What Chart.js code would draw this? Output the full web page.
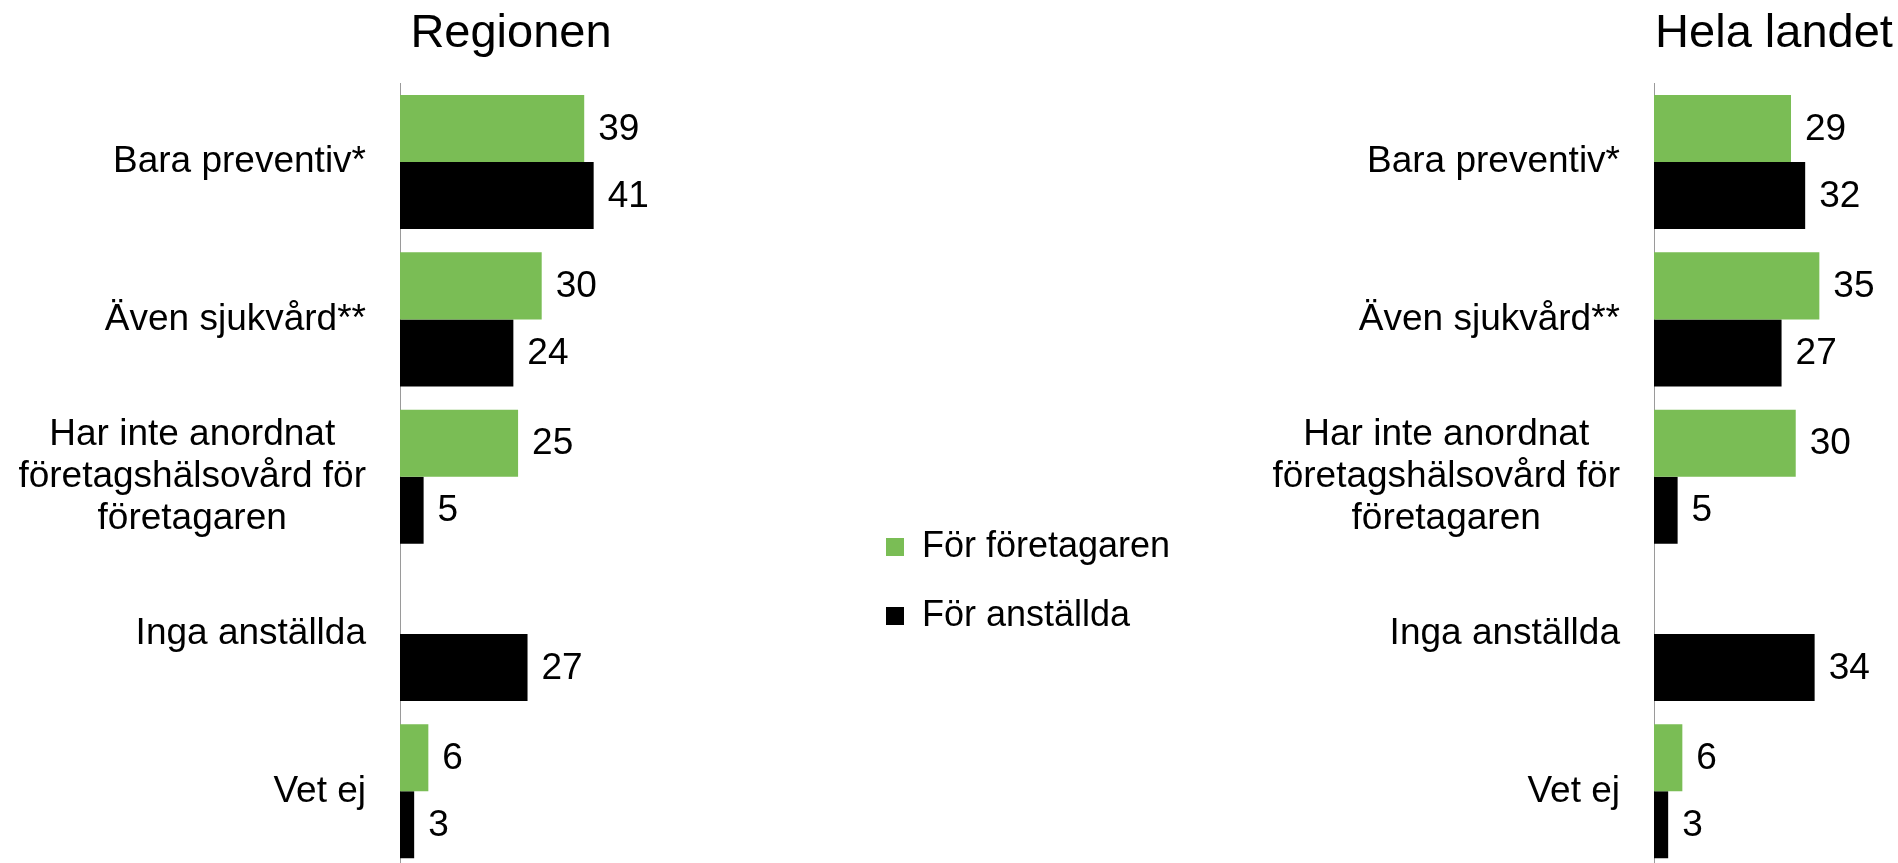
<!DOCTYPE html>
<html lang="sv">
<head>
<meta charset="utf-8">
<title>Företagshälsovård</title>
<script src="https://cdn.jsdelivr.net/npm/chart.js@4.4.1/dist/chart.umd.min.js"></script>
<style>
  html, body { margin: 0; padding: 0; background: #fff; overflow: hidden; }
  .box { position: absolute; top: 0; }
  #boxRegion { left: 0; width: 700px; height: 870px; }
  #boxLandet { left: 1100px; width: 798px; height: 870px; }
  #boxLegend { left: 853px; top: 496px; width: 330px; height: 200px; }
</style>
</head>
<body>
<div class="box" id="boxRegion"><canvas id="region"></canvas></div>
<div class="box" id="boxLegend"><canvas id="legend"></canvas></div>
<div class="box" id="boxLandet"><canvas id="landet"></canvas></div>
<script>
const categories = [
  'Bara preventiv*',
  'Även sjukvård**',
  ['Har inte anordnat', 'företagshälsovård för', 'företagaren'],
  'Inga anställda',
  'Vet ej'
];
const seriesNames = ['För företagaren', 'För anställda'];

const regionForetagaren = [39, 30, 25, null, 6];
const regionAnstallda = [41, 24, 5, 27, 3];
const landetForetagaren = [29, 35, 30, null, 6];
const landetAnstallda = [32, 27, 5, 34, 3];

const GREEN = '#7abd55';
const BLACK = '#000000';
const FONT = "'Liberation Sans', Arial, sans-serif";

Chart.defaults.font.family = FONT;
Chart.defaults.color = '#000';

// numbers to the right of each bar
const valueLabels = {
  id: 'valueLabels',
  afterDatasetsDraw(chart) {
    const ctx = chart.ctx;
    ctx.save();
    ctx.font = '37px ' + FONT;
    ctx.fillStyle = '#000';
    ctx.textAlign = 'left';
    ctx.textBaseline = 'middle';
    chart.data.datasets.forEach((ds, i) => {
      chart.getDatasetMeta(i).data.forEach((bar, j) => {
        const v = ds.data[j];
        if (v == null) return;
        ctx.fillText(String(v), bar.x + 14, bar.y + 1);
      });
    });
    ctx.restore();
  }
};

// category names, multi-line ones centred as a block
const categoryLabels = {
  id: 'categoryLabels',
  afterDraw(chart) {
    const scale = chart.scales.y;
    const ctx = chart.ctx;
    const right = scale.right - 34;
    const lh = 42;
    ctx.save();
    ctx.font = '37px ' + FONT;
    ctx.fillStyle = '#000';
    ctx.textAlign = 'center';
    ctx.textBaseline = 'middle';
    chart.data.labels.forEach((label, i) => {
      const lines = Array.isArray(label) ? label : [label];
      const w = Math.max(...lines.map(l => ctx.measureText(l).width));
      const cx = right - w / 2;
      const cy = scale.getPixelForTick(i);
      lines.forEach((line, k) => {
        ctx.fillText(line, cx, cy + (k - (lines.length - 1) / 2) * lh);
      });
    });
    ctx.restore();
  }
};

// both panels share the same px-per-percent; xMax only widens the plot box
function makeChart(id, title, foretagaren, anstallda, axisWidth, padRight, xMax) {
  return new Chart(document.getElementById(id), {
    type: 'bar',
    data: {
      labels: categories,
      datasets: [
        { label: seriesNames[0], data: foretagaren, backgroundColor: GREEN },
        { label: seriesNames[1], data: anstallda, backgroundColor: BLACK }
      ]
    },
    options: {
      indexAxis: 'y',
      responsive: true,
      maintainAspectRatio: false,
      animation: false,
      datasets: { bar: { categoryPercentage: 0.852, barPercentage: 1 } },
      layout: { padding: { left: 0, right: padRight, top: 0, bottom: 0 } },
      scales: {
        x: { display: false, min: 0, max: xMax },
        y: {
          grid: { display: false },
          border: { display: true, color: '#9a9a9a', width: 1 },
          ticks: { display: false },
          afterFit(scale) { scale.width = axisWidth; }
        }
      },
      plugins: {
        legend: { display: false },
        tooltip: { enabled: false },
        title: {
          display: true,
          text: title,
          fullSize: false,
          color: '#000',
          font: { size: 47, weight: 'normal' },
          padding: { top: 6, bottom: 21 }
        }
      }
    },
    plugins: [valueLabels, categoryLabels]
  });
}

makeChart('region', 'Regionen', regionForetagaren, regionAnstallda, 400, 78, 47);
makeChart('landet', 'Hela landet', landetForetagaren, landetAnstallda, 554, 4, 50.8);

// shared legend between the two panels
new Chart(document.getElementById('legend'), {
  type: 'bar',
  data: {
    labels: [],
    datasets: [
      { label: seriesNames[0], data: [], backgroundColor: GREEN },
      { label: seriesNames[1], data: [], backgroundColor: BLACK }
    ]
  },
  options: {
    responsive: true,
    maintainAspectRatio: false,
    animation: false,
    scales: { x: { display: false }, y: { display: false } },
    plugins: {
      tooltip: { enabled: false },
      legend: {
        position: 'top',
        align: 'start',
        maxHeight: 200,
        labels: { boxWidth: 18, boxHeight: 18, padding: 33, color: '#000', font: { size: 36 } }
      }
    }
  }
});
</script>
</body>
</html>
